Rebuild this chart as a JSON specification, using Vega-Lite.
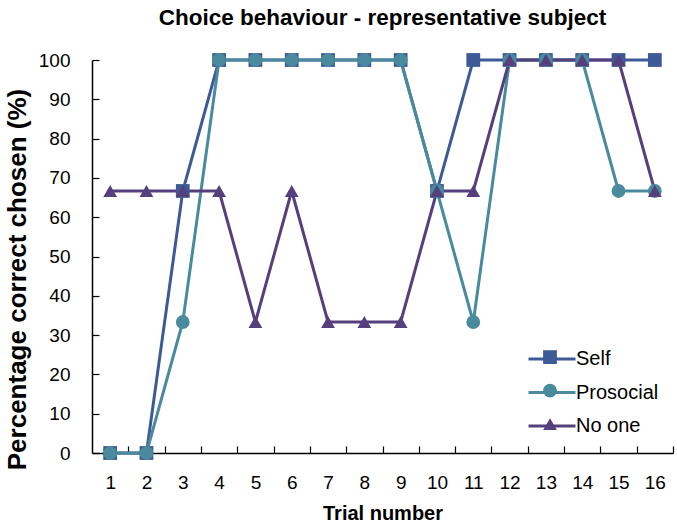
{
  "$schema": "https://vega.github.io/schema/vega-lite/v6.json",
  "width": 581,
  "height": 393,
  "autosize": {"type": "none"},
  "padding": {"left": 92, "top": 60, "right": 4, "bottom": 69},
  "background": "white",
  "title": {"text": "Choice behaviour - representative subject", "font": "Liberation Sans", "fontSize": 22.5, "fontWeight": "bold", "color": "black", "offset": 22, "anchor": "middle"},
  "data": {"values": [
    {"trial": 1, "group": "Self", "pct": 0},
    {"trial": 2, "group": "Self", "pct": 0},
    {"trial": 3, "group": "Self", "pct": 66.67},
    {"trial": 4, "group": "Self", "pct": 100},
    {"trial": 5, "group": "Self", "pct": 100},
    {"trial": 6, "group": "Self", "pct": 100},
    {"trial": 7, "group": "Self", "pct": 100},
    {"trial": 8, "group": "Self", "pct": 100},
    {"trial": 9, "group": "Self", "pct": 100},
    {"trial": 10, "group": "Self", "pct": 66.67},
    {"trial": 11, "group": "Self", "pct": 100},
    {"trial": 12, "group": "Self", "pct": 100},
    {"trial": 13, "group": "Self", "pct": 100},
    {"trial": 14, "group": "Self", "pct": 100},
    {"trial": 15, "group": "Self", "pct": 100},
    {"trial": 16, "group": "Self", "pct": 100},
    {"trial": 1, "group": "Prosocial", "pct": 0},
    {"trial": 2, "group": "Prosocial", "pct": 0},
    {"trial": 3, "group": "Prosocial", "pct": 33.33},
    {"trial": 4, "group": "Prosocial", "pct": 100},
    {"trial": 5, "group": "Prosocial", "pct": 100},
    {"trial": 6, "group": "Prosocial", "pct": 100},
    {"trial": 7, "group": "Prosocial", "pct": 100},
    {"trial": 8, "group": "Prosocial", "pct": 100},
    {"trial": 9, "group": "Prosocial", "pct": 100},
    {"trial": 10, "group": "Prosocial", "pct": 66.67},
    {"trial": 11, "group": "Prosocial", "pct": 33.33},
    {"trial": 12, "group": "Prosocial", "pct": 100},
    {"trial": 13, "group": "Prosocial", "pct": 100},
    {"trial": 14, "group": "Prosocial", "pct": 100},
    {"trial": 15, "group": "Prosocial", "pct": 66.67},
    {"trial": 16, "group": "Prosocial", "pct": 66.67},
    {"trial": 1, "group": "No one", "pct": 66.67},
    {"trial": 2, "group": "No one", "pct": 66.67},
    {"trial": 3, "group": "No one", "pct": 66.67},
    {"trial": 4, "group": "No one", "pct": 66.67},
    {"trial": 5, "group": "No one", "pct": 33.33},
    {"trial": 6, "group": "No one", "pct": 66.67},
    {"trial": 7, "group": "No one", "pct": 33.33},
    {"trial": 8, "group": "No one", "pct": 33.33},
    {"trial": 9, "group": "No one", "pct": 33.33},
    {"trial": 10, "group": "No one", "pct": 66.67},
    {"trial": 11, "group": "No one", "pct": 66.67},
    {"trial": 12, "group": "No one", "pct": 100},
    {"trial": 13, "group": "No one", "pct": 100},
    {"trial": 14, "group": "No one", "pct": 100},
    {"trial": 15, "group": "No one", "pct": 100},
    {"trial": 16, "group": "No one", "pct": 66.67}
  ]},
  "resolve": {"axis": {"x": "independent", "y": "independent"}, "legend": {"color": "independent", "fill": "independent", "shape": "independent"}},
  "layer": [
    {"mark": {"type": "line", "strokeWidth": 3},
     "encoding": {
       "x": {"field": "trial", "type": "quantitative",
         "scale": {"domain": [0.5, 16.5], "nice": false, "zero": false},
         "axis": {"orient": "bottom", "values": [1,2,3,4,5,6,7,8,9,10,11,12,13,14,15,16], "ticks": false, "tickSize": 0, "title": "Trial number", "titleFont": "Liberation Sans", "titleFontSize": 20, "titleFontWeight": "bold", "titleColor": "black", "titlePadding": 11, "labelFont": "Liberation Sans", "labelFontSize": 19, "labelColor": "black", "labelPadding": 20, "labelFlush": false, "labelOverlap": false, "grid": false, "domainColor": "black", "domainWidth": 1.5}},
       "y": {"field": "pct", "type": "quantitative",
         "scale": {"domain": [0, 100], "nice": false},
         "axis": {"orient": "left", "values": [0,10,20,30,40,50,60,70,80,90,100], "ticks": false, "tickSize": 0, "title": "Percentage correct chosen (%)", "titleFont": "Liberation Sans", "titleFontSize": 26, "titleFontWeight": "bold", "titleColor": "black", "titlePadding": 8, "titleY": 219, "labelFont": "Liberation Sans", "labelFontSize": 19, "labelColor": "black", "labelPadding": 22, "grid": false, "domainColor": "black", "domainWidth": 1.5}},
       "color": {"field": "group", "type": "nominal", "sort": ["Self", "Prosocial", "No one"],
         "scale": {"range": ["#3D5A97", "#4A8A9E", "#563F7D"]},
         "legend": {"orient": "none", "legendX": 450, "legendY": 289, "title": null, "padding": 0,
           "symbolType": "M-4.7,0H4.7", "symbolSize": 100, "symbolStrokeWidth": 3,
           "labelFont": "Liberation Sans", "labelFontSize": 20, "labelColor": "black",
           "labelOffset": 14, "rowPadding": 13.5}},
       "order": {"field": "trial"}}},
    {"mark": {"type": "point", "filled": true, "opacity": 1, "strokeWidth": 0},
     "encoding": {
       "x": {"field": "trial", "type": "quantitative",
         "axis": {"orient": "top", "offset": -393, "values": [1.5,2.5,3.5,4.5,5.5,6.5,7.5,8.5,9.5,10.5,11.5,12.5,13.5,14.5,15.5,16.5], "labels": false, "domain": false, "title": null, "grid": false, "ticks": true, "tickSize": 7, "tickColor": "black", "tickWidth": 1.2}},
       "y": {"field": "pct", "type": "quantitative",
         "axis": {"orient": "right", "offset": -581, "values": [0,10,20,30,40,50,60,70,80,90,100], "labels": false, "domain": false, "title": null, "grid": false, "ticks": true, "tickSize": 7, "tickColor": "black", "tickWidth": 1.2}},
       "fill": {"field": "group", "type": "nominal",
         "scale": {"domain": ["Self", "Prosocial", "No one"], "range": ["#3D5A97", "#4A8A9E", "#563F7D"]},
         "legend": {"orient": "none", "legendX": 448, "legendY": 287.1, "title": null, "padding": 0,
           "symbolSize": 190, "symbolOpacity": 1, "symbolStrokeWidth": 0,
           "labelFont": "Liberation Sans", "labelFontSize": 20, "labelExpr": "''",
           "labelOffset": 14, "rowPadding": 13.5}},
       "shape": {"field": "group", "type": "nominal",
         "scale": {"domain": ["Self", "Prosocial", "No one"], "range": ["square", "circle", "triangle-up"]},
         "legend": {"orient": "none", "legendX": 448, "legendY": 287.1, "title": null, "padding": 0,
           "symbolSize": 190, "symbolOpacity": 1, "symbolStrokeWidth": 0,
           "labelFont": "Liberation Sans", "labelFontSize": 20, "labelExpr": "''",
           "labelOffset": 14, "rowPadding": 13.5}},
       "size": {"value": 190}}}
  ],
  "config": {"view": {"stroke": null}}
}
